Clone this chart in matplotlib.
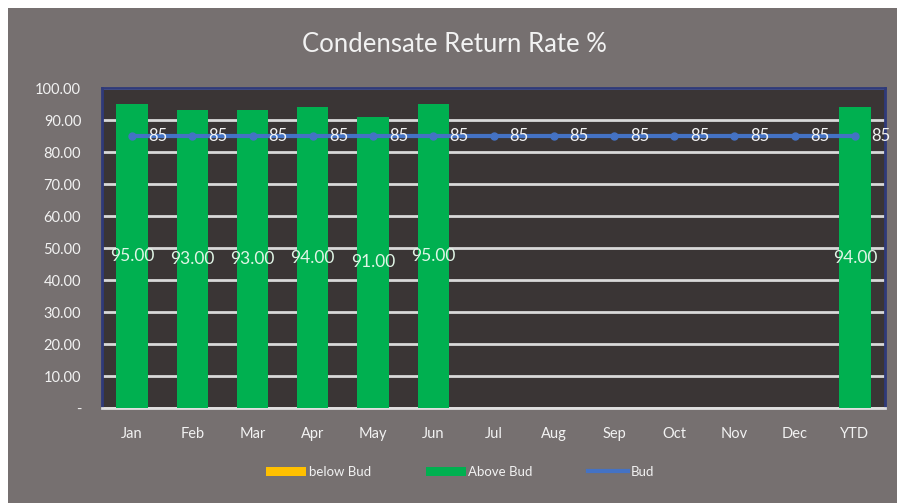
import matplotlib
matplotlib.use("Agg")
import matplotlib.pyplot as plt
from matplotlib.patches import Rectangle, Patch
from matplotlib.lines import Line2D
import numpy as np

months = ["Jan", "Feb", "Mar", "Apr", "May", "Jun", "Jul", "Aug", "Sep",
          "Oct", "Nov", "Dec", "YTD"]
above_bud = [95, 93, 93, 94, 91, 95, None, None, None, None, None, None, 94]
below_bud = [0] * 13
bud = [85] * 13
y_ticks = [0, 10, 20, 30, 40, 50, 60, 70, 80, 90, 100]
y_labels = ["-"] + [f"{v:.2f}" for v in y_ticks[1:]]

plt.rcParams["font.family"] = ["Lato", "DejaVu Sans"]

BG = "#767070"
PLOT_BG = "#3a3535"
GREEN = "#00b050"
YELLOW = "#ffc000"
BLUE = "#4472c4"
TEXT = "#f2f2f2"

fig = plt.figure(figsize=(8.97, 5.03), dpi=100, facecolor="white")
fig.patches.append(Rectangle((8 / 897, 0), 1, 1 - 8 / 503, transform=fig.transFigure,
                             facecolor=BG, edgecolor="none", zorder=-5))
ax = fig.add_axes([102 / 897, 95 / 503, 783 / 897, 320 / 503])
ax.set_facecolor(PLOT_BG)

x = np.arange(len(months))
above = np.array([np.nan if v is None else v for v in above_bud], dtype=float)
ax.bar(x, below_bud, width=0.52, color=YELLOW, zorder=3)
ax.bar(x, above, width=0.52, color=GREEN, zorder=3)
ax.plot(x, bud, color=BLUE, lw=3, marker="o", ms=5, zorder=4)

for xi, v in zip(x, above):
    if not np.isnan(v):
        ax.text(xi, v / 2, f"{v:.2f}", ha="center", va="center",
                fontsize=12.5, color="#e0f5e6", zorder=5)
for xi, v in zip(x, bud):
    ax.annotate(f"{v}", (xi, v), xytext=(16, 0), textcoords="offset pixels",
                ha="left", va="center", fontsize=12, color=TEXT, zorder=5)

ax.set_xlim(-0.5, len(months) - 0.5)
ax.set_ylim(0, 100)
ax.set_yticks(y_ticks)
ax.set_yticklabels(y_labels)
ax.set_xticks(x)
ax.set_xticklabels(months)
ax.tick_params(axis="y", length=0, pad=15, labelsize=10.5, labelcolor=TEXT)
ax.tick_params(axis="x", length=0, pad=14, labelsize=10.5, labelcolor=TEXT)
ax.grid(axis="y", color="#d9d9d9", lw=2, zorder=1)
ax.set_axisbelow(True)
for side in ("top", "left", "right"):
    ax.spines[side].set_color("#2f3a7a")
    ax.spines[side].set_linewidth(2)
ax.spines["bottom"].set_color("#e0e0e0")
ax.spines["bottom"].set_linewidth(2)

fig.text(0.507, 1 - 45 / 503, "Condensate Return Rate %", ha="center", va="center",
         fontsize=18.5, color=TEXT)

handles = [
    Patch(facecolor=YELLOW, edgecolor="none"),
    Patch(facecolor=GREEN, edgecolor="none"),
    Line2D([0], [0], color=BLUE, lw=3),
]
fig.legend(handles, ["below Bud", "Above Bud", "Bud"], loc="center",
           bbox_to_anchor=(0.513, 1 - 472 / 503), ncol=3, frameon=False,
           fontsize=9.5, labelcolor=TEXT, handlelength=3.0, handleheight=0.7,
           handletextpad=0.2, columnspacing=4.2)

fig.savefig("out.png", dpi=100, facecolor="white")
